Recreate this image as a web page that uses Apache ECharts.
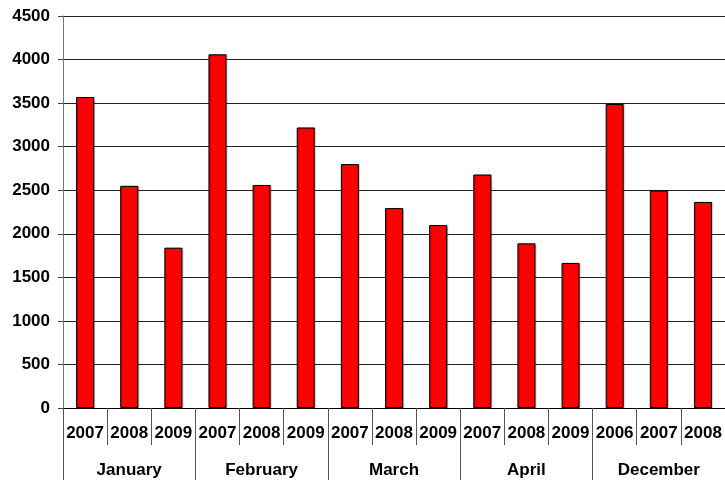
<!DOCTYPE html>
<html>
<head>
<meta charset="utf-8">
<script src="https://cdn.jsdelivr.net/npm/echarts@6/dist/echarts.min.js"></script>
<style>
  html, body { margin: 0; padding: 0; background: #fff; }
  #chart { width: 725px; height: 483px; }
</style>
</head>
<body>
<div id="chart"></div>
<script>
// Monthly totals by year, grouped under each month
const years = ['2007', '2008', '2009', '2007', '2008', '2009', '2007', '2008', '2009',
               '2007', '2008', '2009', '2006', '2007', '2008'];
const months = ['January', 'February', 'March', 'April', 'December'];
const values = [3570, 2550, 1840, 4060, 2560, 3220, 2800, 2295, 2100,
                2680, 1890, 1665, 3490, 2497, 2365];
const yTicks = [0, 500, 1000, 1500, 2000, 2500, 3000, 3500, 4000, 4500];

const font = 'Liberation Sans, Arial, sans-serif';
const chart = echarts.init(document.getElementById('chart'), null, { renderer: 'canvas' });

chart.setOption({
  animation: false,
  backgroundColor: '#fff',
  grid: { left: 63, top: 16, width: 664, bottom: 75, containLabel: false },
  xAxis: [
    {
      type: 'category',
      data: years,
      position: 'bottom',
      boundaryGap: true,
      axisLine: { show: true, lineStyle: { color: '#000', width: 1 } },
      axisTick: { show: true, interval: 0, length: 37, lineStyle: { color: '#555' } },
      axisLabel: { interval: 0, margin: 17, fontFamily: font, fontWeight: 'bold', fontSize: 17, color: '#000' }
    },
    {
      type: 'category',
      data: months,
      position: 'bottom',
      boundaryGap: true,
      axisLine: { show: false },
      axisTick: { show: true, interval: 0, length: 72, lineStyle: { color: '#555' } },
      axisLabel: { interval: 0, margin: 54, fontFamily: font, fontWeight: 'bold', fontSize: 17, color: '#000' }
    }
  ],
  yAxis: {
    type: 'value',
    min: yTicks[0],
    max: yTicks[yTicks.length - 1],
    interval: yTicks[1] - yTicks[0],
    axisLine: { show: true, lineStyle: { color: '#777' } },
    axisTick: { show: true, length: 5, lineStyle: { color: '#444' } },
    splitLine: { show: true, lineStyle: { color: '#222', width: 1 } },
    axisLabel: {
      margin: 13, fontFamily: font, fontWeight: 'bold', fontSize: 17, color: '#000',
      formatter: (v) => String(v)
    }
  },
  series: [{
    type: 'bar',
    xAxisIndex: 0,
    data: values,
    barWidth: 18,
    itemStyle: {
      color: '#ff0000', borderColor: '#000', borderWidth: 1,
      shadowColor: 'rgba(0,0,0,0.25)', shadowBlur: 1, shadowOffsetX: 1, shadowOffsetY: 0
    }
  }]
});
</script>
</body>
</html>
